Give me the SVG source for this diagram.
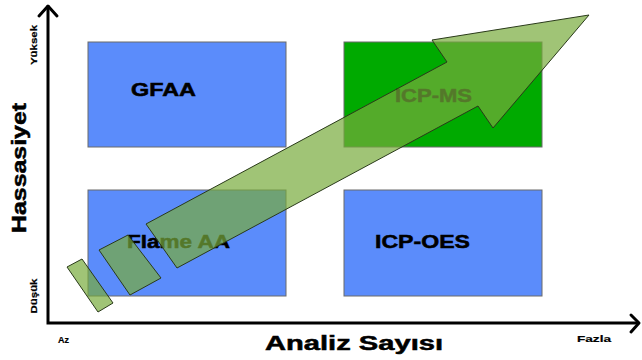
<svg xmlns="http://www.w3.org/2000/svg" width="642" height="360" viewBox="0 0 642 360">
  <style>
    .box { stroke: #6a6a6a; stroke-width: 1; }
    .blue { fill: #5b8cfb; }
    .green { fill: #00aa00; }
    .lbl { font-family: "Liberation Sans", Arial, sans-serif; font-weight: bold; fill: #000; stroke: #000; stroke-width: 0.5; }
    .sm { stroke-width: 0.2; }
    .axis { stroke: #000; stroke-width: 3; fill: none; stroke-linecap: square; }
    .head { stroke: #000; stroke-width: 3; fill: none; stroke-linecap: round; stroke-linejoin: round; }
    .trend { fill: #78ab3c; fill-opacity: 0.7; stroke: #2a3a1a; stroke-width: 1; }
  </style>
  <rect width="642" height="360" fill="#fff"/>

  <g id="node-gfaa">
    <rect class="box blue" x="88" y="42" width="198" height="105"/>
    <text class="lbl" x="131" y="96" font-size="18" textLength="65" lengthAdjust="spacingAndGlyphs">GFAA</text>
  </g>
  <g id="node-icpms">
    <rect class="box green" x="344" y="42" width="198" height="105"/>
    <text class="lbl" x="395" y="102" font-size="18" textLength="77" lengthAdjust="spacingAndGlyphs">ICP-MS</text>
  </g>
  <g id="node-flame">
    <rect class="box blue" x="88" y="190" width="198" height="106"/>
    <text class="lbl" x="127" y="248" font-size="18" textLength="103" lengthAdjust="spacingAndGlyphs">Flame AA</text>
  </g>
  <g id="node-icpoes">
    <rect class="box blue" x="344" y="190" width="198" height="106"/>
    <text class="lbl" x="375" y="248" font-size="18" textLength="95" lengthAdjust="spacingAndGlyphs">ICP-OES</text>
  </g>

  <g id="connectors">
    <!-- axes -->
    <path class="axis" d="M48 7 V323 H637"/>
    <path class="head" d="M39 16 L48 6 L57 16"/>
    <path class="head" d="M631 315 L639 323 L631 332"/>
    <!-- trend arrow -->
    <polygon class="trend" points="67,267 82,259 113,303 98,312"/>
    <polygon class="trend" points="99,250 128,235 161,278 130,295"/>
    <polygon class="trend" points="146,224 447,62 432,40 589,15 493,128 478,106 177,268"/>
  </g>

  <g id="axis-labels">
    <text class="lbl" font-size="21" transform="translate(26 168) rotate(-90)" text-anchor="middle" textLength="130" lengthAdjust="spacingAndGlyphs">Hassasiyet</text>
    <text class="lbl sm" font-size="9" transform="translate(37 45) rotate(-90)" text-anchor="middle" textLength="40" lengthAdjust="spacingAndGlyphs">Yüksek</text>
    <text class="lbl sm" font-size="9" transform="translate(37 296) rotate(-90)" text-anchor="middle" textLength="35" lengthAdjust="spacingAndGlyphs">Düşük</text>
    <text class="lbl sm" font-size="9" x="58" y="343" textLength="11" lengthAdjust="spacingAndGlyphs">Az</text>
    <text class="lbl sm" font-size="9" x="577" y="342" textLength="34" lengthAdjust="spacingAndGlyphs">Fazla</text>
    <text class="lbl" font-size="19.5" x="265" y="350" textLength="178" lengthAdjust="spacingAndGlyphs">Analiz Sayısı</text>
  </g>
</svg>
